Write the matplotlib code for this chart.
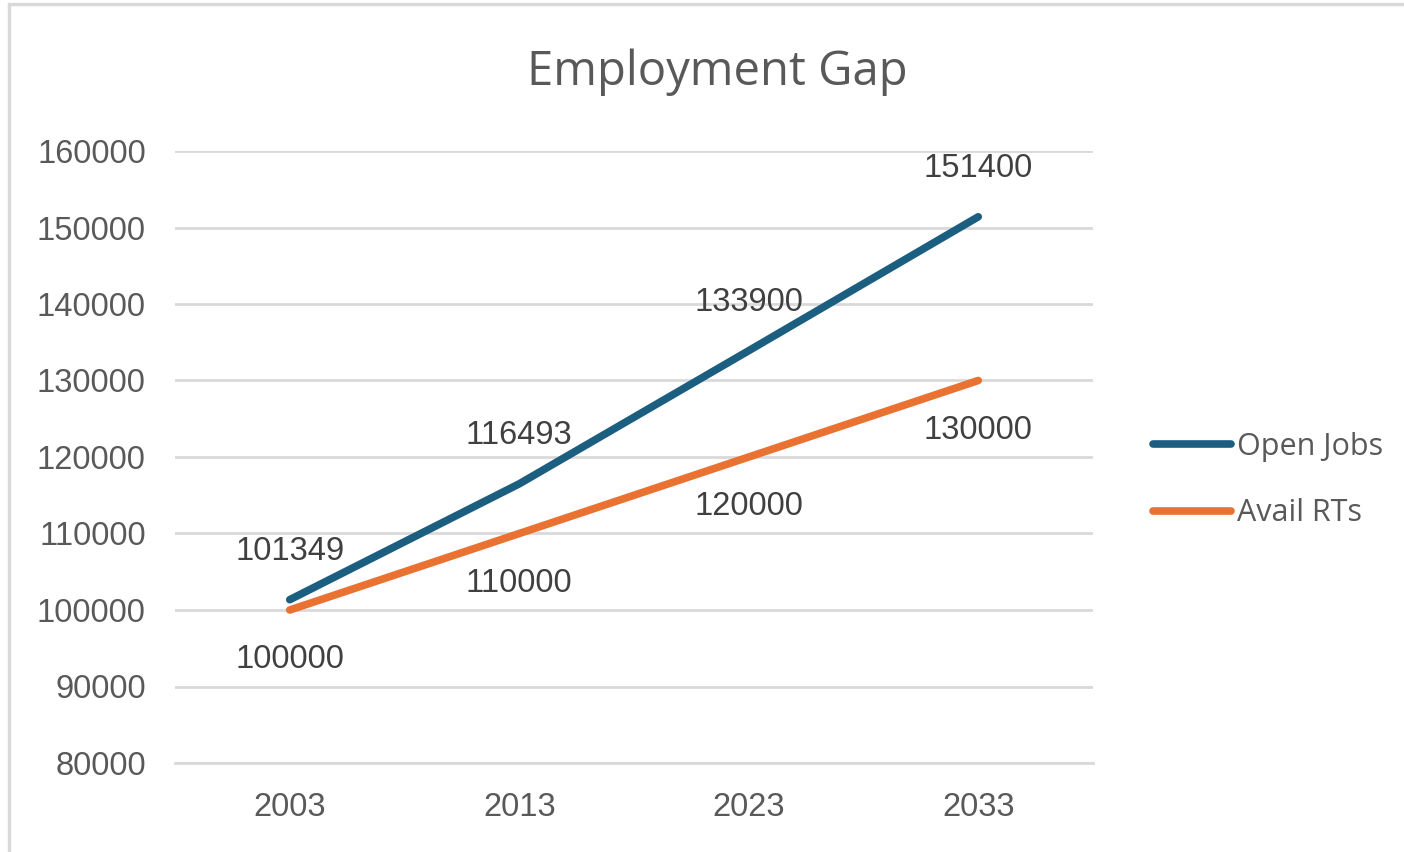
import matplotlib.pyplot as plt
from matplotlib.patches import Rectangle

# chart data
years = ["2003", "2013", "2023", "2033"]
open_jobs = [101349, 116493, 133900, 151400]
avail_rts = [100000, 110000, 120000, 130000]
y_ticks = [80000, 90000, 100000, 110000, 120000, 130000, 140000, 150000, 160000]

blue = "#1B5E80"
orange = "#E97132"
text_gray = "#595959"

fig = plt.figure(figsize=(14.04, 8.52), dpi=100)
ax = fig.add_axes([175 / 1404, 1 - 763 / 852, (1093 - 175) / 1404, (763 - 151) / 852])

# outer chart border like the office chart frame
fig.patches.append(Rectangle((9 / 1404, -0.01), 1.1, 1 - 4 / 852 + 0.01, transform=fig.transFigure,
                             fill=False, edgecolor="#D9D9D9", linewidth=2.5))

x = list(range(len(years)))
ax.plot(x, open_jobs, color=blue, linewidth=5.5, solid_capstyle="round", label="Open Jobs", zorder=3)
ax.plot(x, avail_rts, color=orange, linewidth=5.5, solid_capstyle="round", label="Avail RTs", zorder=3)

# data labels: open jobs above, avail rts below
for xi, v in zip(x, open_jobs):
    ax.annotate(str(v), (xi, v), xytext=(0, 35), textcoords="offset points", ha="center", va="center",
                fontsize=23.5, color="#404040", family="Liberation Sans")
for xi, v in zip(x, avail_rts):
    ax.annotate(str(v), (xi, v), xytext=(0, -36), textcoords="offset points", ha="center", va="center",
                fontsize=23.5, color="#404040", family="Liberation Sans")

ax.set_xlim(-0.5, len(years) - 0.5)
ax.set_ylim(80000, 160000)
ax.set_yticks(y_ticks)
ax.set_xticks(x)
ax.set_xticklabels(years)
ax.yaxis.grid(True, color="#D9D9D9", linewidth=2)
ax.set_axisbelow(True)
for s in ax.spines.values():
    s.set_visible(False)
ax.spines["bottom"].set_visible(True)
ax.spines["bottom"].set_color("#D9D9D9")
ax.spines["bottom"].set_linewidth(2)
ax.tick_params(length=0, labelsize=23.5, labelcolor=text_gray)
ax.tick_params(axis="y", pad=21)
ax.tick_params(axis="x", pad=21)
for lab in ax.get_xticklabels() + ax.get_yticklabels():
    lab.set_family("Liberation Sans")

fig.text(717 / 1404, 1 - 72 / 852, "Employment Gap", ha="center", va="center",
         fontsize=34, color=text_gray, family="Open Sans")

leg = ax.legend(loc="center left", bbox_to_anchor=(1153 / 1404, 1 - 480 / 852), bbox_transform=fig.transFigure,
                frameon=False, borderpad=0, borderaxespad=0, handlelength=2.55, handletextpad=0.2,
                labelspacing=1.2, prop={"family": "Open Sans", "size": 22})
for t in leg.get_texts():
    t.set_color(text_gray)

fig.savefig("out.png", dpi=100)
